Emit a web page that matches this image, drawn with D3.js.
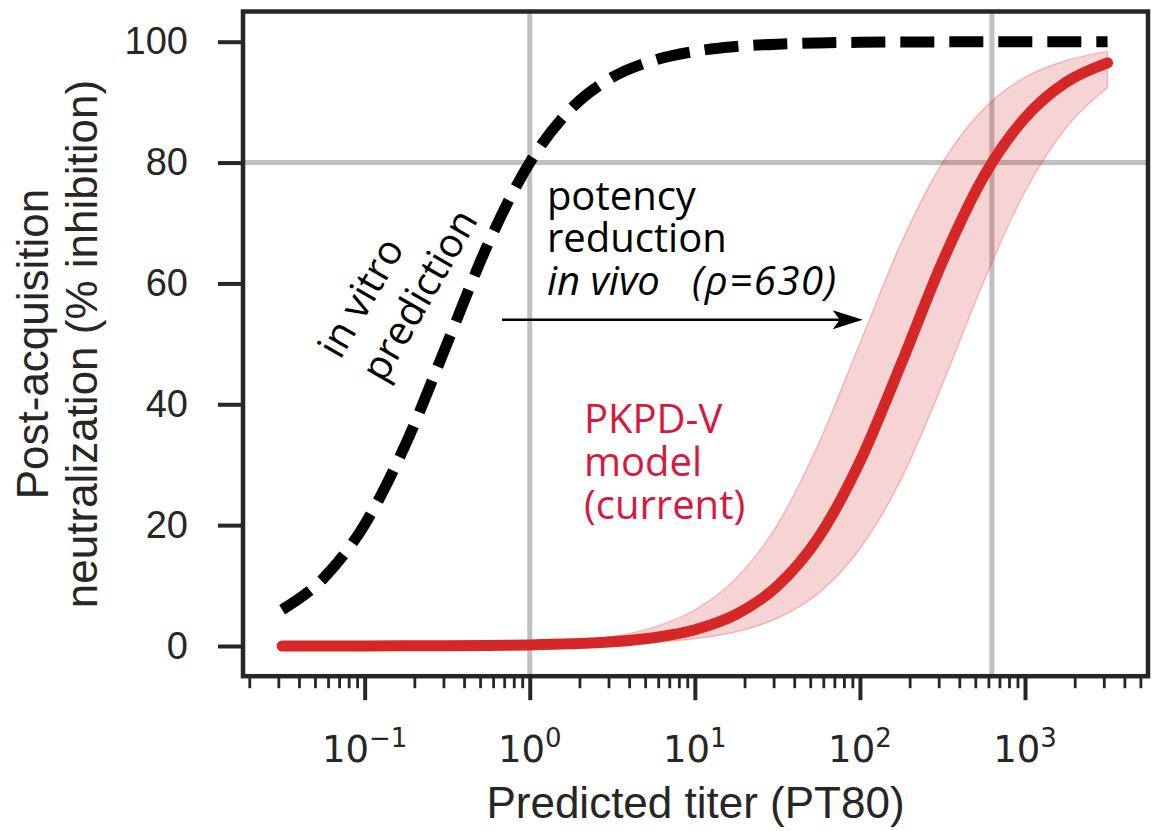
<!DOCTYPE html>
<html><head><meta charset="utf-8">
<script src="https://cdn.jsdelivr.net/npm/d3@7"></script>
<style>body{margin:0;background:#fff}</style>
</head><body>
<svg id="chart" width="1153" height="831"></svg>
<script>
// ---- data ----
const logTiter   = [-1.5,-1.25,-1,-0.75,-0.5,-0.25,0,0.25,0.5,0.75,1,1.25,1.5,1.75,2,2.25,2.5,2.75,3,3.25,3.5];
const inVitro    = [6.0,11.2,20.1,33.5,50.1,66.7,80.0,88.9,94.1,96.9,98.4,99.2,99.6,99.8,99.9,99.95,99.97,99.99,99.99,100,100];
const pkpdMid    = [0.0,0.0,0.01,0.02,0.04,0.09,0.17,0.35,0.69,1.37,2.69,5.23,9.92,18.0,30.5,46.7,63.6,77.7,87.4,93.3,96.5];
const pkpdLow    = [0.0,0.0,0.005,0.01,0.02,0.04,0.08,0.15,0.30,0.60,1.19,2.35,4.59,8.76,16.1,27.6,43.3,60.3,75.2,85.8,92.4];
const pkpdHigh   = [0.01,0.01,0.03,0.05,0.10,0.20,0.40,0.79,1.57,3.08,5.96,11.2,20.1,33.5,50.1,66.7,80.0,88.9,94.1,96.9,98.4];
const yTicks     = [0,20,40,60,80,100];
const xMajorExp  = [-1,0,1,2,3];
const gridTiters = [1,630];
const gridLevels = [80];
const arrowFrom  = 0.68, arrowTo = 104, arrowLevel = 54;

const svg = d3.select("#chart");
const x = d3.scaleLog().domain([Math.pow(10,-1.737), Math.pow(10,3.745)]).range([243,1148]);
const y = d3.scaleLinear().domain([-5,105]).range([676.2,11.5]);
const dark = "#262626";

// grid
svg.append("g").selectAll("line").data(gridTiters).join("line")
  .attr("x1",d=>x(d)).attr("x2",d=>x(d)).attr("y1",y(105)).attr("y2",y(-5))
  .attr("stroke","#c0c0c0").attr("stroke-width",5);
svg.append("g").selectAll("line").data(gridLevels).join("line")
  .attr("x1",x.range()[0]).attr("x2",x.range()[1]).attr("y1",d=>y(d)).attr("y2",d=>y(d))
  .attr("stroke","#c0c0c0").attr("stroke-width",5);

const pts = (arr)=>logTiter.map((l,i)=>[Math.pow(10,l),arr[i]]);

// band
const area = d3.area().x((d,i)=>x(Math.pow(10,logTiter[i])))
  .y0((d,i)=>y(pkpdLow[i])).y1((d,i)=>y(pkpdHigh[i])).curve(d3.curveMonotoneX);
svg.append("path").datum(logTiter).attr("d",area)
  .attr("fill","#d62728").attr("fill-opacity",0.2)
  .attr("stroke","#d62728").attr("stroke-opacity",0.25).attr("stroke-width",1.5);

const line = d3.line().x(d=>x(d[0])).y(d=>y(d[1])).curve(d3.curveMonotoneX);
svg.append("path").datum(pts(pkpdMid)).attr("d",line)
  .attr("fill","none").attr("stroke","#d62728").attr("stroke-width",11).attr("stroke-linecap","round");
svg.append("path").datum(pts(inVitro)).attr("d",line)
  .attr("fill","none").attr("stroke","#000").attr("stroke-width",11).attr("stroke-dasharray","34 15");

// frame
svg.append("rect").attr("x",243).attr("y",y(105)).attr("width",1148-243).attr("height",y(-5)-y(105))
  .attr("fill","none").attr("stroke",dark).attr("stroke-width",4.5);

// x axis ticks
const majors = xMajorExp.map(e=>Math.pow(10,e));
const minors = [];
for (let e=-2;e<=3;e++) for (let m=2;m<=9;m++){const v=m*Math.pow(10,e); if(v>=x.domain()[0]&&v<=x.domain()[1]) minors.push(v);}
const gxMaj = svg.append("g").attr("transform",`translate(0,${y(-5)})`)
  .call(d3.axisBottom(x).tickValues(majors).tickSize(24).tickFormat(""));
const gxMin = svg.append("g").attr("transform",`translate(0,${y(-5)})`)
  .call(d3.axisBottom(x).tickValues(minors).tickSize(12).tickFormat(""));
[gxMaj,gxMin].forEach(g=>g.select(".domain").remove());
gxMaj.selectAll(".tick line").attr("stroke",dark).attr("stroke-width",4);
gxMin.selectAll(".tick line").attr("stroke",dark).attr("stroke-width",2.8);

const xl = svg.append("g").selectAll("text").data(xMajorExp).join("text")
  .attr("x",d=>x(Math.pow(10,d))).attr("y",762).attr("text-anchor","middle")
  .attr("font-family","DejaVu Sans").attr("font-size",37).attr("fill",dark);
xl.append("tspan").text("10");
xl.append("tspan").attr("dy",-15).attr("font-size",26).text(d=>String(d).replace("-","\u2212"));

// y axis
const gy = svg.append("g").attr("transform","translate(243,0)")
  .call(d3.axisLeft(y).tickValues(yTicks).tickSize(25).tickPadding(30));
gy.select(".domain").remove();
gy.selectAll(".tick line").attr("stroke",dark).attr("stroke-width",4);
gy.selectAll(".tick text").attr("font-family","Liberation Sans").attr("font-size",38).attr("fill",dark);

// axis labels
svg.append("text").attr("x",695.5).attr("y",818).attr("text-anchor","middle")
  .attr("font-family","Liberation Sans").attr("font-size",44).attr("fill",dark).text("Predicted titer (PT80)");
const yl = svg.append("text").attr("transform","translate(48,344) rotate(-90)").attr("text-anchor","middle")
  .attr("font-family","Liberation Sans").attr("font-size",44).attr("fill",dark);
yl.append("tspan").attr("x",0).attr("y",0).text("Post-acquisition");
yl.append("tspan").attr("x",0).attr("y",49).text("neutralization (% inhibition)");

// arrow
const ay = y(arrowLevel), ax0 = x(arrowFrom), ax1 = x(arrowTo);
svg.append("line").attr("x1",ax0).attr("x2",ax1-20).attr("y1",ay).attr("y2",ay)
  .attr("stroke","#000").attr("stroke-width",2.6);
svg.append("path").attr("d",`M${ax1},${ay} L${ax1-30},${ay-9.5} L${ax1-23},${ay} L${ax1-30},${ay+9.5} Z`).attr("fill","#000");

// annotations
const ann = "Open Sans";
const px = x(1.27);
const pt = svg.append("text").attr("font-family",ann).attr("font-size",40).attr("fill","#000");
pt.append("tspan").attr("x",px).attr("y",y(72.2)).text("potency");
pt.append("tspan").attr("x",px).attr("y",y(65.2)).text("reduction");
pt.append("tspan").attr("x",px).attr("y",y(58.1)).attr("font-style","italic").text("in vivo");
pt.append("tspan").attr("x",px+145).attr("y",y(58.1)).attr("font-style","italic").attr("letter-spacing",1.6).text("(\u03C1=630)");

const pk = svg.append("text").attr("font-family",ann).attr("font-size",40).attr("fill","#d7193f");
[["PKPD-V",35.2],["model",28.1],["(current)",21.0]].forEach(([t,v])=>
  pk.append("tspan").attr("x",x(2.13)).attr("y",y(v)).text(t));

[["in vitro",0.0927,57.8],["prediction",0.21,58.2]].forEach(([t,tx,ty])=>svg.append("text")
  .attr("transform",`translate(${x(tx)},${y(ty)}) rotate(-60)`).attr("text-anchor","middle")
  .attr("dominant-baseline","central").attr("font-family",ann).attr("font-size",40).attr("fill","#000").text(t));
</script>
</body></html>
